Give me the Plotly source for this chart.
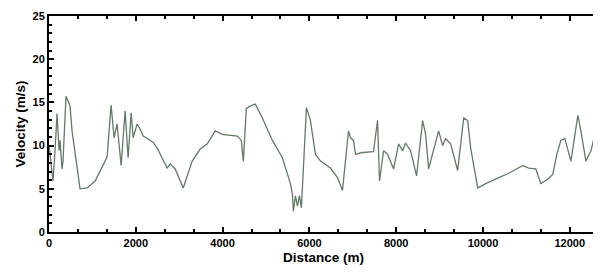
import plotly.graph_objects as go

distance_m = [0, 46, 92, 138, 185, 231, 254, 300, 323, 392, 439, 485, 531, 623, 715, 877,
              1062, 1292, 1339, 1431, 1500, 1569, 1662, 1754, 1823, 1893, 1939, 2031, 2100,
              2170, 2262, 2400, 2493, 2723, 2793, 2908, 3093, 3300, 3485, 3647, 3831, 3901,
              3993, 4339, 4431, 4478, 4547, 4639, 4754, 4916, 5147, 5378, 5562, 5608, 5631,
              5678, 5724, 5770, 5816, 5932, 6024, 6139, 6255, 6486, 6647, 6762, 6901, 6947,
              7016, 7063, 7224, 7478, 7570, 7616, 7709, 7801, 7940, 8055, 8147, 8216, 8332,
              8470, 8609, 8678, 8747, 8978, 9070, 9140, 9255, 9416, 9555, 9647, 9716, 9878,
              10063, 10363, 10594, 10917, 11055, 11217, 11332, 11494, 11609, 11702, 11794,
              11887, 12025, 12186, 12256, 12371, 12487, 12602, 12660]

velocity_ms = [10.0, 7.7, 5.9, 9.4, 13.7, 9.4, 10.6, 7.3, 8.2, 15.7, 15.2, 14.6, 11.7, 8.2,
               5.0, 5.1, 5.9, 8.2, 8.7, 14.7, 10.9, 12.5, 7.7, 14.0, 8.6, 13.8, 10.9, 12.5,
               11.9, 11.1, 10.8, 10.4, 9.7, 7.4, 7.9, 7.3, 5.1, 8.2, 9.6, 10.2, 11.7, 11.5,
               11.3, 11.1, 10.6, 8.2, 14.3, 14.6, 14.8, 13.2, 10.6, 8.6, 5.6, 4.4, 2.4, 4.2,
               3.0, 4.2, 2.8, 14.4, 12.9, 9.0, 8.2, 7.4, 6.3, 4.8, 11.7, 10.9, 10.6, 9.0,
               9.2, 9.3, 12.9, 5.9, 9.4, 9.0, 7.3, 10.2, 9.4, 10.3, 9.4, 6.5, 12.9, 11.3,
               7.3, 11.7, 10.0, 10.8, 10.2, 7.1, 13.2, 12.9, 9.7, 5.1, 5.6, 6.3, 6.8, 7.7,
               7.4, 7.3, 5.6, 6.1, 6.7, 9.0, 10.6, 10.8, 8.2, 13.5, 11.7, 8.2, 9.4, 11.8, 10.3]

x_ticks = [0, 2000, 4000, 6000, 8000, 10000, 12000]
y_ticks = [0, 5, 10, 15, 20, 25]

fig = go.Figure()
fig.add_trace(go.Scatter(x=distance_m, y=velocity_ms, mode="lines",
                         line=dict(color="#627a66", width=1.3), showlegend=False))

axis_common = dict(
    showgrid=False, zeroline=False, showline=True, linecolor="black", linewidth=2,
    mirror="ticks", ticks="inside", ticklen=5, tickwidth=1.5, tickcolor="black",
    automargin=False,
    tickfont=dict(family="Liberation Sans, Arial", size=11, color="black", weight="bold"),
)

title_font = dict(family="Liberation Sans, Arial", size=13.5, color="black", weight="bold")

fig.update_xaxes(range=[0, 12650], tickvals=x_ticks, ticktext=[str(v) for v in x_ticks],
                 minor=dict(ticks="inside", ticklen=3, tickcolor="black", dtick=2000 / 3, tick0=0),
                 title=dict(text="Distance (m)", standoff=4, font=title_font),
                 **axis_common)
fig.update_yaxes(range=[0, 25], tickvals=y_ticks, ticktext=[str(v) for v in y_ticks],
                 minor=dict(ticks="inside", ticklen=3, tickcolor="black", dtick=1, tick0=0),
                 title=dict(text="Velocity (m/s)", standoff=4, font=title_font),
                 **axis_common)

# page body has an 8px default margin; size the figure to fit the 601x275 window
fig.update_layout(width=593, height=267, margin=dict(l=41, r=3, t=8, b=43),
                  plot_bgcolor="white", paper_bgcolor="white")

fig.write_html("out.html")
